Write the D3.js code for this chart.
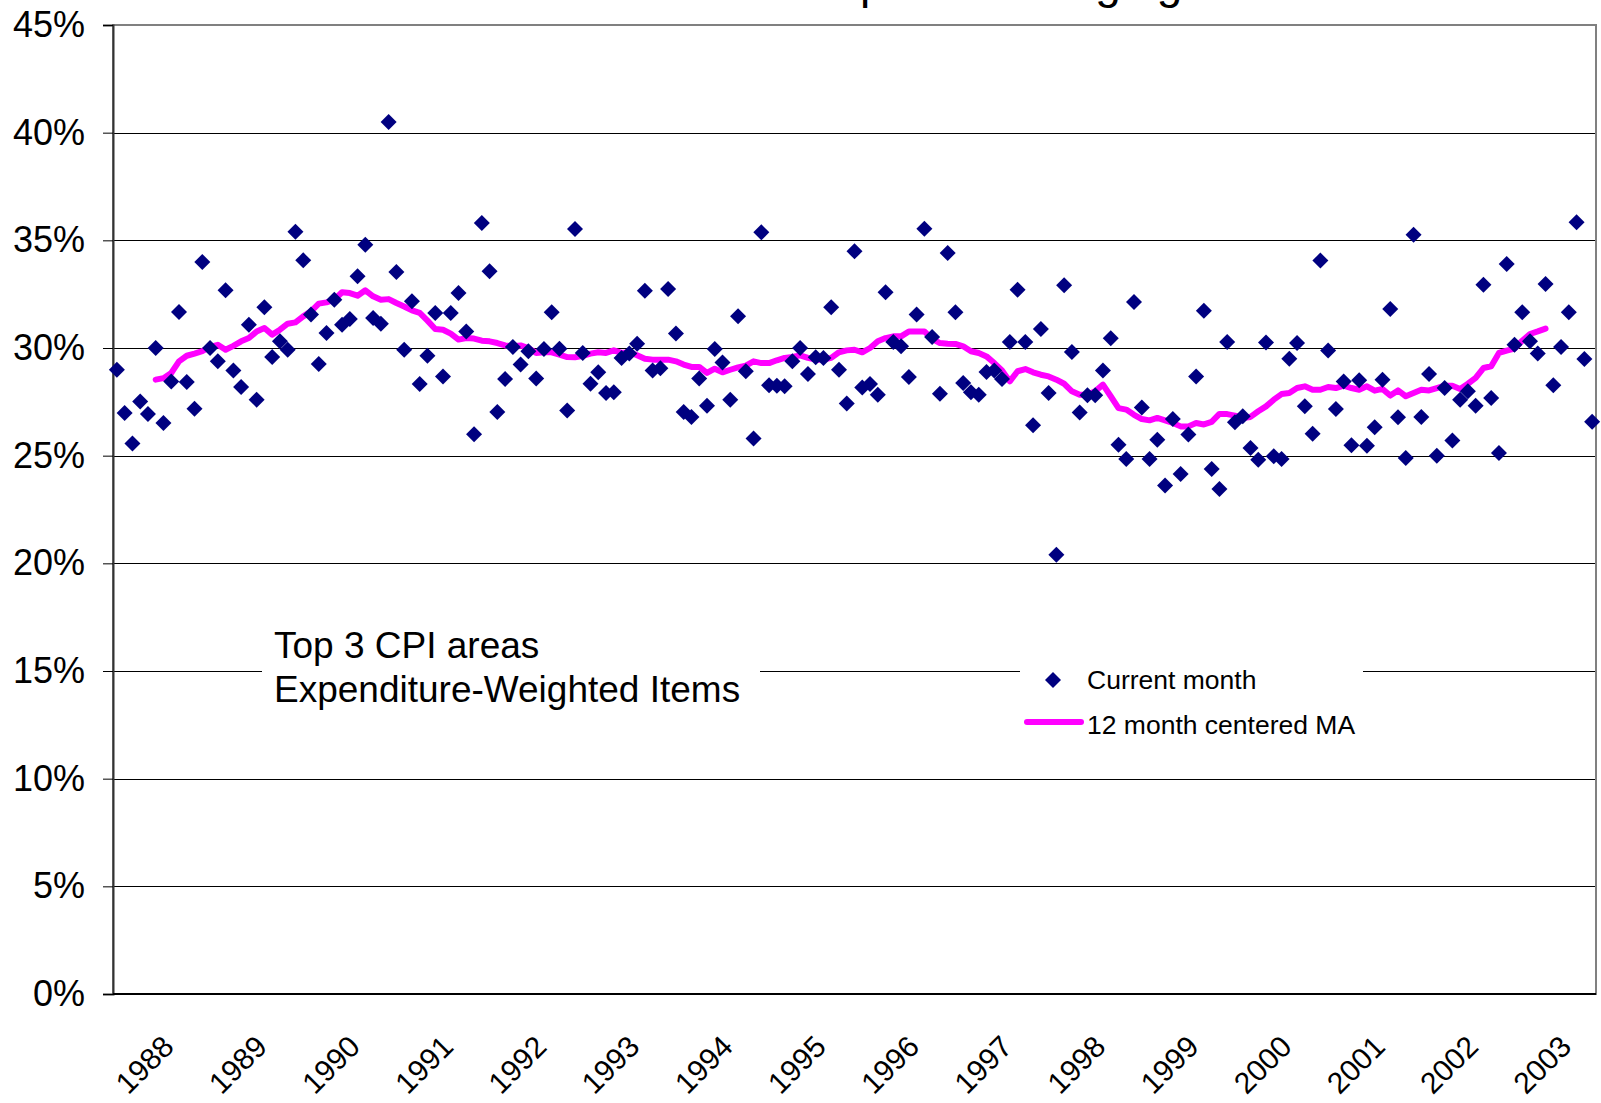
<!DOCTYPE html>
<html>
<head>
<meta charset="utf-8">
<script src="https://cdn.jsdelivr.net/npm/d3@7"></script>
<style>
	body { margin: 0; background: #fff; }
	text { font-family: "Liberation Sans", Arial, sans-serif; fill: #000; }
</style>
</head>
<body>
<svg id="chart" width="1601" height="1103"></svg>
<script>
var years = ["1988", "1989", "1990", "1991", "1992", "1993", "1994", "1995",
	"1996", "1997", "1998", "1999", "2000", "2001", "2002", "2003"];

// share of items, one value per month (%)
var currentMonth = [
	28.99, 26.98, 25.56, 27.52, 26.93, 30.0, 26.52, 28.45, 31.67, 28.42, 27.18, 33.99,
	30.0, 29.38, 32.68, 28.95, 28.19, 31.08, 27.6, 31.89, 29.58, 30.31, 29.92, 35.4,
	34.07, 31.55, 29.26, 30.7, 32.24, 31.08, 31.35, 33.33, 34.8, 31.39, 31.13, 40.5,
	33.53, 29.92, 32.17, 28.33, 29.64, 31.63, 28.68, 31.63, 32.55, 30.77, 26.0, 35.8,
	33.56, 27.03, 28.56, 30.05, 29.23, 29.85, 28.58, 29.95, 31.66, 29.97, 27.1, 35.53,
	29.77, 28.34, 28.87, 27.91, 27.94, 29.54, 29.74, 30.2, 32.66, 28.96, 29.06, 32.74,
	30.67, 27.03, 26.8, 28.58, 27.32, 29.95, 29.33, 27.6, 31.47, 28.92, 25.8, 35.37,
	28.27, 28.25, 28.22, 29.38, 30.0, 28.79, 29.57, 29.54, 31.89, 28.99, 27.42, 34.49,
	28.17, 28.33, 27.83, 32.59, 30.28, 30.08, 28.65, 31.55, 35.54, 30.51, 27.88, 34.41,
	31.66, 28.37, 27.94, 27.83, 28.89, 28.96, 28.56, 30.28, 32.71, 30.28, 26.41, 30.88,
	27.91, 20.4, 32.91, 29.81, 27.01, 27.8, 27.8, 28.95, 30.45, 25.51, 24.85, 32.14,
	27.24, 24.85, 25.74, 23.61, 26.7, 24.15, 25.98, 28.68, 31.73, 24.38, 23.45, 30.28,
	26.55, 26.83, 25.36, 24.81, 30.26, 24.97, 24.85, 29.5, 30.23, 27.29, 26.02, 34.06,
	29.88, 27.17, 28.45, 25.48, 28.5, 25.46, 26.32, 28.53, 31.81, 26.78, 24.89, 35.26,
	26.8, 28.79, 25.0, 28.14, 25.71, 27.6, 27.99, 27.32, 32.94, 27.68, 25.12, 33.9,
	30.15, 31.66, 30.31, 29.74, 32.97, 28.27, 30.05, 31.66, 35.84, 29.49, 26.58
];

// 12 month centered MA; starts at month index 5
var maFirst = 5;
var movingAvg = [
	28.53, 28.6, 28.84, 29.38, 29.64, 29.74, 29.85, 30.05, 30.15, 29.92, 30.1, 30.31,
	30.46, 30.77, 30.93, 30.62, 30.85, 31.13, 31.19, 31.47, 31.7, 32.06, 32.12, 32.24,
	32.59, 32.55, 32.43, 32.68, 32.4, 32.24, 32.27, 32.09, 31.93, 31.75, 31.63, 31.27,
	30.88, 30.85, 30.67, 30.39, 30.46, 30.44, 30.34, 30.31, 30.23, 30.12, 30.08, 30.12,
	30.0, 29.77, 29.8, 29.8, 29.69, 29.58, 29.57, 29.64, 29.74, 29.8, 29.77, 29.89,
	29.77, 29.8, 29.66, 29.5, 29.46, 29.46, 29.46, 29.38, 29.23, 29.12, 29.12, 28.84,
	29.04, 28.87, 28.99, 29.1, 29.18, 29.38, 29.3, 29.3, 29.43, 29.54, 29.58, 29.66,
	29.54, 29.46, 29.46, 29.54, 29.8, 29.89, 29.92, 29.8, 30.0, 30.31, 30.46, 30.54,
	30.54, 30.77, 30.77, 30.77, 30.42, 30.23, 30.2, 30.19, 30.08, 29.85, 29.77, 29.61,
	29.3, 28.96, 28.45, 28.92, 29.02, 28.87, 28.76, 28.68, 28.53, 28.34, 27.99, 27.83,
	27.83, 27.99, 28.3, 27.76, 27.21, 27.14, 26.9, 26.7, 26.64, 26.75, 26.64, 26.52,
	26.36, 26.36, 26.52, 26.45, 26.57, 26.94, 26.93, 26.86, 26.75, 26.8, 27.06, 27.29,
	27.6, 27.86, 27.91, 28.14, 28.22, 28.06, 28.06, 28.19, 28.14, 28.25, 28.14, 28.06,
	28.22, 28.02, 28.1, 27.79, 28.03, 27.76, 27.91, 28.06, 28.03, 28.14, 28.25, 28.25,
	28.1, 28.34, 28.61, 29.07, 29.15, 29.77, 29.88, 29.97, 30.34, 30.65, 30.77, 30.9
];

var yTicks = [0, 5, 10, 15, 20, 25, 30, 35, 40, 45];

var plot = {left: 113, right: 1596, top: 25, bottom: 994};
var svg = d3.select("#chart");

var x = d3.scaleLinear()
	.domain([-0.5, currentMonth.length - 0.5])
	.range([plot.left, plot.right]);
var y = d3.scaleLinear()
	.domain([0, 45])
	.range([plot.bottom, plot.top]);

// title sits above the page, only descenders show
svg.append("text")
	.attr("x", 800)
	.attr("y", -2)
	.attr("text-anchor", "middle")
	.style("font-size", "46px")
	.text("Percent of Items with prices changing");

// gridlines
svg.append("g")
	.selectAll("line")
	.data(yTicks.slice(1, -1))
	.join("line")
	.attr("x1", plot.left)
	.attr("x2", plot.right)
	.attr("y1", function(d) { return Math.round(y(d)) + 0.5; })
	.attr("y2", function(d) { return Math.round(y(d)) + 0.5; })
	.attr("stroke", "#000")
	.attr("stroke-width", 1);

// plot area border
svg.append("rect")
	.attr("x", plot.left)
	.attr("y", plot.top)
	.attr("width", plot.right - plot.left)
	.attr("height", plot.bottom - plot.top)
	.attr("fill", "none")
	.attr("stroke", "#808080")
	.attr("stroke-width", 2);

// y axis
var yAxis = svg.append("g")
	.attr("transform", "translate(" + plot.left + ",0)")
	.call(d3.axisLeft(y)
		.tickValues(yTicks)
		.tickSize(10)
		.tickPadding(18)
		.tickFormat(function(d) { return d + "%"; }));
yAxis.select(".domain").attr("stroke", "#333").attr("stroke-width", 2);
yAxis.selectAll(".tick line").attr("stroke", "#000");
yAxis.selectAll(".tick text")
	.attr("fill", "#000")
	.style("font-family", "'Liberation Sans', Arial, sans-serif")
	.style("font-size", "36px");

// x axis line
svg.append("line")
	.attr("x1", plot.left)
	.attr("x2", plot.right)
	.attr("y1", plot.bottom)
	.attr("y2", plot.bottom)
	.attr("stroke", "#000")
	.attr("stroke-width", 2);

// year labels, one every 12 months
svg.append("g")
	.selectAll("text")
	.data(years)
	.join("text")
	.attr("transform", function(d, k) {
		return "translate(" + x(k * 12 + 6.6) + ",1041) rotate(-45)";
	})
	.attr("text-anchor", "end")
	.attr("dy", "0.35em")
	.style("font-size", "30px")
	.text(function(d) { return d; });

// note box
var note = svg.append("g");
note.append("rect")
	.attr("x", 262)
	.attr("y", 612)
	.attr("width", 498)
	.attr("height", 100)
	.attr("fill", "#fff");
note.selectAll("text")
	.data(["Top 3 CPI areas", "Expenditure-Weighted Items"])
	.join("text")
	.attr("x", 274)
	.attr("y", function(d, k) { return 658 + k * 44; })
	.style("font-size", "37px")
	.text(function(d) { return d; });

// moving average
var line = d3.line()
	.x(function(d, k) { return x(k + maFirst); })
	.y(function(d) { return y(d); });

svg.append("path")
	.datum(movingAvg)
	.attr("d", line)
	.attr("fill", "none")
	.attr("stroke", "#ff00ff")
	.attr("stroke-width", 6)
	.attr("stroke-linejoin", "round")
	.attr("stroke-linecap", "round");

// monthly points
var diamond = "M0,-8L8,0L0,8L-8,0Z";
svg.append("g")
	.selectAll("path")
	.data(currentMonth)
	.join("path")
	.attr("d", diamond)
	.attr("transform", function(d, k) { return "translate(" + x(k) + "," + y(d) + ")"; })
	.attr("fill", "#000080");

// legend
var legend = svg.append("g");
legend.append("rect")
	.attr("x", 1020)
	.attr("y", 645)
	.attr("width", 343)
	.attr("height", 100)
	.attr("fill", "#fff");
legend.append("path")
	.attr("d", diamond)
	.attr("transform", "translate(1053,680)")
	.attr("fill", "#000080");
legend.append("line")
	.attr("x1", 1027)
	.attr("x2", 1081)
	.attr("y1", 722)
	.attr("y2", 722)
	.attr("stroke", "#ff00ff")
	.attr("stroke-width", 6)
	.attr("stroke-linecap", "round");
legend.selectAll("text")
	.data(["Current month", "12 month centered MA"])
	.join("text")
	.attr("x", 1087)
	.attr("y", function(d, k) { return 689 + k * 45; })
	.style("font-size", "26.5px")
	.text(function(d) { return d; });
</script>
</body>
</html>
